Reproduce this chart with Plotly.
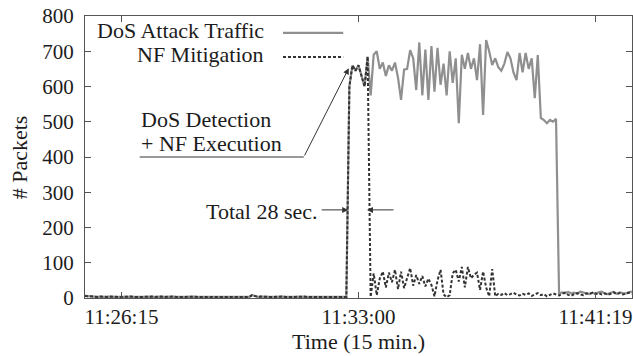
import plotly.graph_objects as go

# Sample times in seconds (one sample every 5 s over the 15-minute window)
time_s = list(range(0, 905, 5))

# Packets per sample of the DoS attack traffic
attack_traffic = [
    6, 5, 4, 4, 3, 4, 3, 3, 4, 3, 4, 3, 3, 4, 5, 4, 3, 4, 3, 3,
    4, 5, 4, 3, 4, 4, 3, 4, 5, 4, 3, 4, 3, 3, 4, 3, 4, 3, 3, 4,
    3, 3, 4, 3, 4, 3, 3, 4, 3, 4, 3, 4, 5, 4, 3, 8, 5, 3, 4, 3,
    4, 3, 3, 4, 3, 4, 3, 4, 3, 3, 4, 3, 4, 3, 3, 4, 3, 4, 3, 3,
    4, 3, 4, 3, 3, 4, 3,
    600, 660, 645, 660, 630, 600, 685,
    575, 690, 700, 650, 668, 630, 660, 645, 668, 625,
    562, 648, 650, 703, 680, 590, 725, 575, 705, 562,
    715, 585, 710, 605, 665, 575, 700, 610, 680, 496,
    690, 650, 695, 650, 680, 618, 720, 519, 732, 700,
    661, 680, 655, 645, 665, 698, 680, 640, 618, 695,
    640, 695, 650, 680, 567, 689, 511, 505, 496, 505,
    500, 508,
    12, 16, 14, 17, 13, 15, 12, 18, 15, 13, 11, 15, 12, 16, 18, 13,
    11, 15, 17, 12, 16, 14, 13, 17, 18,
]

# Packets per sample that pass once the NF mitigation is running
nf_mitigation = [
    6, 5, 4, 4, 3, 4, 3, 3, 4, 3, 4, 3, 3, 4, 5, 4, 3, 4, 3, 3,
    4, 5, 4, 3, 4, 4, 3, 4, 5, 4, 3, 4, 3, 3, 4, 3, 4, 3, 3, 4,
    3, 3, 4, 3, 4, 3, 3, 4, 3, 4, 3, 4, 5, 4, 3, 8, 5, 3, 4, 3,
    4, 3, 3, 4, 3, 4, 3, 4, 3, 3, 4, 3, 4, 3, 3, 4, 3, 4, 3, 3,
    4, 3, 4, 3, 3, 4, 3,
    600, 660, 645, 660, 630, 600, 685,
    3, 70, 8, 55, 75, 30, 72, 45, 80, 25,
    75, 28, 55, 85, 35, 65, 40, 62, 33, 55,
    37, 5, 50, 80, 10, 2, 8, 70, 80, 47,
    88, 30, 88, 56, 66, 72, 23, 75, 30, 5,
    82, 5,
    12, 9, 14, 8, 11, 15, 10, 7, 12, 9, 13, 6, 10, 14, 8, 11, 5, 9,
    13, 10, 7, 12, 15, 9, 6, 11, 14, 10, 8, 13, 12, 15, 11, 14, 10,
    13, 9, 12, 16, 11, 14, 10, 13, 15, 12,
]

tick_positions = [60, 450, 840]
tick_labels = ["11:26:15", "11:33:00", "11:41:19"]

GRAY = "#8f8f8f"
DARK = "#333333"
TEXT = "#1c1c1c"
AXIS = "#555555"
FONT = "Liberation Serif, Times New Roman, Times, serif"
DASH = "3px,2px"

fig = go.Figure()
fig.add_trace(go.Scatter(
    x=time_s, y=attack_traffic, mode="lines", name="DoS Attack Traffic",
    line=dict(color=GRAY, width=2.2), showlegend=False,
))
fig.add_trace(go.Scatter(
    x=time_s, y=nf_mitigation, mode="lines", name="NF Mitigation",
    line=dict(color=DARK, width=2, dash=DASH), showlegend=False,
))

annotations = [
    # legend labels (right aligned, sample line to the right)
    dict(xref="paper", yref="paper", x=0.331, y=0.948, text="DoS Attack Traffic",
         showarrow=False, xanchor="right", yanchor="middle", font=dict(size=22)),
    dict(xref="paper", yref="paper", x=0.331, y=0.865, text="NF Mitigation",
         showarrow=False, xanchor="right", yanchor="middle", font=dict(size=22)),
    # detection label, two tightly spaced lines
    dict(x=90, y=506, text="DoS Detection", showarrow=False, borderpad=0,
         xanchor="left", yanchor="middle", font=dict(size=22)),
    dict(x=90, y=437, text="+ NF Execution", showarrow=False, borderpad=0,
         xanchor="left", yanchor="middle", font=dict(size=22)),
    dict(x=434, y=652, ax=360, ay=400, axref="x", ayref="y", text="",
         showarrow=True, arrowhead=2, arrowsize=1.2, arrowwidth=1, arrowcolor=DARK),
    # mitigation delay
    dict(x=385, y=246, text="Total 28 sec.", showarrow=False,
         xanchor="right", yanchor="middle", font=dict(size=22)),
    dict(x=433, y=250, ax=387, ay=250, axref="x", ayref="y", text="",
         showarrow=True, arrowhead=2, arrowsize=1.2, arrowwidth=1, arrowcolor=DARK),
    dict(x=464, y=250, ax=510, ay=250, axref="x", ayref="y", text="",
         showarrow=True, arrowhead=2, arrowsize=1.2, arrowwidth=1, arrowcolor=DARK),
    # axis titles
    dict(xref="paper", yref="paper", x=-0.12, y=0.5, text="# Packets", textangle=-90,
         showarrow=False, xanchor="center", yanchor="middle", font=dict(size=22)),
    dict(xref="paper", yref="paper", x=0.5, y=-0.153, text="Time (15 min.)",
         showarrow=False, xanchor="center", yanchor="middle", font=dict(size=22)),
]

shapes = [
    dict(type="line", xref="paper", yref="paper", x0=0.362, x1=0.472, y0=0.94, y1=0.94,
         line=dict(color=GRAY, width=2.2)),
    dict(type="line", xref="paper", yref="paper", x0=0.362, x1=0.472, y0=0.855, y1=0.855,
         line=dict(color=DARK, width=2, dash=DASH)),
    dict(type="line", x0=90, x1=360, y0=400, y1=400, line=dict(color=DARK, width=1)),
]

fig.update_layout(
    width=633, height=356,
    margin=dict(l=85, r=1, t=16, b=58),
    paper_bgcolor="white", plot_bgcolor="white",
    font=dict(family=FONT, size=21, color=TEXT),
    annotations=annotations, shapes=shapes,
)
fig.update_xaxes(
    range=[0, 900], tickmode="array", tickvals=tick_positions, ticktext=tick_labels,
    ticks="inside", ticklen=6, tickcolor=AXIS, showline=True, linecolor=AXIS,
    linewidth=1, mirror="allticks", showgrid=False, zeroline=False,
    tickfont=dict(size=21), ticklabelstandoff=0,
)
fig.update_yaxes(
    range=[0, 800], dtick=100, ticks="inside", ticklen=6, tickcolor=AXIS,
    showline=True, linecolor=AXIS, linewidth=1, mirror="allticks",
    showgrid=False, zeroline=False, tickfont=dict(size=21), ticklabelstandoff=6,
)

fig.write_html("out.html")
